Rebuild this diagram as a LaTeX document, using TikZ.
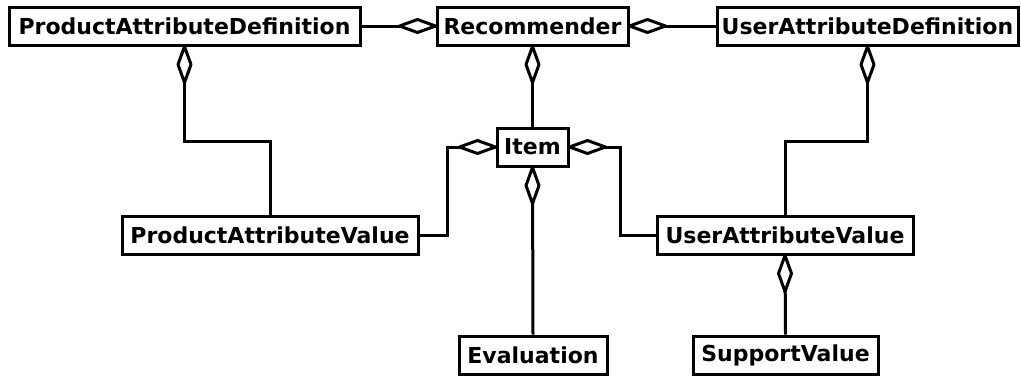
\documentclass[tikz,border=0pt]{standalone}
\usepackage{fontspec}
\setmainfont{DejaVu Sans}
\begin{document}
\begin{tikzpicture}[x=1pt,y=-1pt,
  cls/.style={draw,line width=3pt,fill=white,minimum height=38pt,inner sep=0pt,
    font=\fontsize{22}{26}\selectfont\bfseries},
  link/.style={line width=3pt},
  aggdia/.pic={\draw[line width=3pt,fill=white,line join=round]
    (0,0) -- (18,6.5) -- (36,0) -- (18,-6.5) -- cycle;}]
\useasboundingbox (0,0) rectangle (1021,376);
% classes
\node[cls,minimum width=351pt] (pad) at (184.5,26) {ProductAttributeDefinition};
\node[cls,minimum width=191pt] (rec) at (532.5,26) {Recommender};
\node[cls,minimum width=301pt] (uad) at (867.5,26) {UserAttributeDefinition};
\node[cls,minimum width=71pt]  (item) at (532.5,147) {Item};
\node[cls,minimum width=296pt] (pav) at (270,235) {ProductAttributeValue};
\node[cls,minimum width=256pt] (uav) at (785,235) {UserAttributeValue};
\node[cls,minimum width=148pt] (eval) at (533,355) {Evaluation};
\node[cls,minimum width=185pt] (sv) at (785.5,355) {SupportValue};
% association lines
\draw[link] (rec.west) -- (pad.east);
\draw[link] (rec.east) -- (uad.west);
\draw[link] (rec.south) -- (item.north);
\draw[link] (pad.south) -- ++(0,95) -| (pav.north);
\draw[link] (uad.south) -- ++(0,95) -| (uav.north);
\draw[link] (item.west) -- ++(-48,0) |- (pav.east);
\draw[link] (item.east) -- ++(51,0) |- (uav.west);
\draw[link] (item.south) -- (eval.north);
\draw[link] (uav.south) -- (sv.north);
% aggregation diamonds at the whole side
\pic[rotate=180] at (rec.west) {aggdia};
\pic at (rec.east) {aggdia};
\pic[rotate=-90] at (rec.south) {aggdia};
\pic[rotate=-90] at (pad.south) {aggdia};
\pic[rotate=-90] at (uad.south) {aggdia};
\pic[rotate=180] at (item.west) {aggdia};
\pic at (item.east) {aggdia};
\pic[rotate=-90] at (item.south) {aggdia};
\pic[rotate=-90] at (uav.south) {aggdia};
\end{tikzpicture}
\end{document}
